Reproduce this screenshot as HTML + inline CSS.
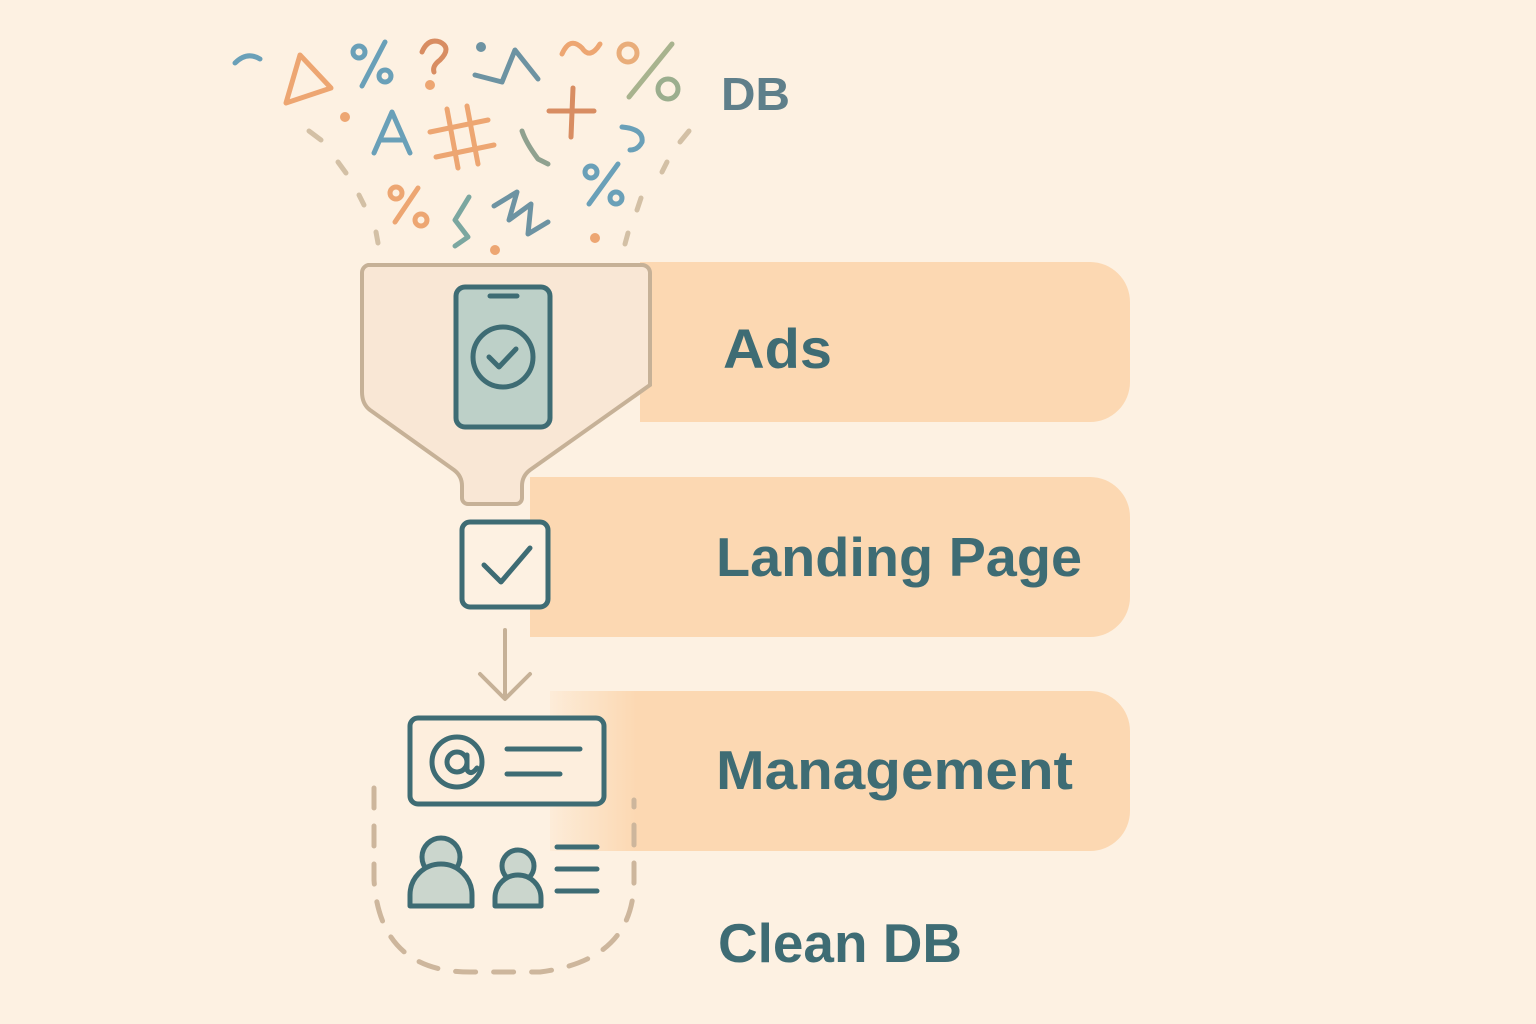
<!DOCTYPE html>
<html><head><meta charset="utf-8"><style>
html,body{margin:0;padding:0;background:#fdf1e2;}
svg{display:block}
text{font-family:"Liberation Sans",sans-serif;font-weight:bold;fill:#3e6c74}
</style></head><body>
<svg width="1536" height="1024" viewBox="0 0 1536 1024" xmlns="http://www.w3.org/2000/svg">
<defs>
<linearGradient id="fadeL" x1="0" x2="1" y1="0" y2="0">
<stop offset="0" stop-color="#fcd8b2" stop-opacity="0.2"/><stop offset="0.15" stop-color="#fcd8b2" stop-opacity="1"/><stop offset="1" stop-color="#fcd8b2"/>
</linearGradient>
</defs>
<rect width="1536" height="1024" fill="#fdf1e2"/>
<path d="M640 262 H1090 a40 40 0 0 1 40 40 V382 a40 40 0 0 1 -40 40 H640 Z" fill="#fcd8b2"/>
<path d="M530 477 H1090 a40 40 0 0 1 40 40 V597 a40 40 0 0 1 -40 40 H530 Z" fill="#fcd8b2"/>
<path d="M550 691 H1090 a40 40 0 0 1 40 40 V811 a40 40 0 0 1 -40 40 H550 Z" fill="url(#fadeL)"/>
<path d="M368 265 H642 a8 8 0 0 1 8 8 V385 L530 470 Q522 476 522 486 V498 a6 6 0 0 1 -6 6 H468 a6 6 0 0 1 -6 -6 V486 Q462 476 454 470 L370 410 Q362 404 362 392 V273 a8 8 0 0 1 6 -8Z" fill="#f9e7d5" stroke="#c6b197" stroke-width="4"/>
<rect x="456" y="287" width="94" height="140" rx="9" fill="#bdd0c8" stroke="#3e6c74" stroke-width="5"/>
<line x1="490" y1="296" x2="517" y2="296" stroke="#3e6c74" stroke-width="5" stroke-linecap="round"/>
<circle cx="503" cy="357" r="30" fill="none" stroke="#3e6c74" stroke-width="5"/>
<path d="M489 357 l10 10 l17 -18" fill="none" stroke="#3e6c74" stroke-width="5" stroke-linecap="round" stroke-linejoin="round"/>
<rect x="462" y="522" width="86" height="85" rx="8" fill="#fdf1e2" stroke="#3e6c74" stroke-width="5"/>
<path d="M484 565 l17 17 l29 -34" fill="none" stroke="#3e6c74" stroke-width="5" stroke-linecap="round" stroke-linejoin="round"/>
<g stroke="#c6b197" stroke-width="4" fill="none" stroke-linecap="round" stroke-linejoin="round">
<line x1="505" y1="630" x2="505" y2="698"/><path d="M480 674 L505 699 L530 674"/>
</g>
<path d="M374 788 V880 Q380 972 470 972 H540 Q634 960 634 880 V800" fill="none" stroke="#cdb69c" stroke-width="5" stroke-dasharray="20 18" stroke-linecap="round"/>
<rect x="410" y="718" width="194" height="86" rx="8" fill="#fdeedd" stroke="#3e6c74" stroke-width="5"/>
<circle cx="457" cy="762" r="25" fill="none" stroke="#3e6c74" stroke-width="5"/>
<circle cx="457" cy="762" r="10" fill="none" stroke="#3e6c74" stroke-width="5"/>
<path d="M467 755 V770 q4 6 10 -2" fill="none" stroke="#3e6c74" stroke-width="5" stroke-linecap="round"/>
<line x1="507" y1="749" x2="580" y2="749" stroke="#3e6c74" stroke-width="5" stroke-linecap="round"/>
<line x1="507" y1="774" x2="560" y2="774" stroke="#3e6c74" stroke-width="5" stroke-linecap="round"/>
<g stroke="#3e6c74" stroke-width="5" fill="#cbd6cd">
<circle cx="441" cy="857" r="19"/>
<path d="M410 906 V895 a31 31 0 0 1 62 0 V906 Z" stroke-linejoin="round"/>
<circle cx="518" cy="866" r="16"/>
<path d="M495 906 V898 a23 23 0 0 1 46 0 V906 Z" stroke-linejoin="round"/>
</g>
<g stroke="#3e6c74" stroke-width="5" stroke-linecap="round">
<line x1="557" y1="847" x2="597" y2="847"/><line x1="557" y1="869" x2="597" y2="869"/><line x1="557" y1="891" x2="597" y2="891"/>
</g>
<g fill="none" stroke-width="5" stroke-linecap="round" stroke-linejoin="round">
<path d="M235 63 q12 -12 25 -4" stroke="#6aa0b8"/>
<path d="M286 103 L300 55 L331 88 Z" stroke="#eda672"/>
<g stroke="#6aa0b8"><line x1="362" y1="86" x2="385" y2="42"/><circle cx="359" cy="52" r="6"/><circle cx="385" cy="76" r="6"/></g>
<path d="M422 52 q6 -14 18 -10 q12 6 0 18 q-8 6 -6 12" stroke="#d88d62"/>
<circle cx="430" cy="85" r="2.5" fill="#eda672" stroke="#eda672"/>
<circle cx="481" cy="47" r="2.5" fill="#6d93a2" stroke="#6d93a2"/>
<path d="M475 75 L502 82 L515 50 L538 79" stroke="#6d93a2"/>
<path d="M562 54 q8 -18 20 -6 q8 12 18 -4" stroke="#eda672"/>
<circle cx="628" cy="53" r="9" stroke="#e9ad7a"/>
<line x1="629" y1="97" x2="672" y2="44" stroke="#a8b38e"/>
<circle cx="668" cy="89" r="10" stroke="#9bae8e"/>
<circle cx="345" cy="117" r="2.5" fill="#eda672" stroke="#eda672"/>
<path d="M374 153 L392 112 L410 153 M380 140 H404" stroke="#6aa0b8"/>
<g stroke="#eda672"><line x1="430" y1="132" x2="488" y2="120"/><line x1="436" y1="157" x2="494" y2="145"/><line x1="447" y1="109" x2="458" y2="168"/><line x1="467" y1="106" x2="478" y2="164"/></g>
<g stroke="#d88d62"><line x1="549" y1="111" x2="594" y2="111"/><line x1="573" y1="88" x2="571" y2="137"/></g>
<path d="M522 131 q4 12 16 28 l10 5" stroke="#8fa18f"/>
<path d="M622 127 q22 2 20 15 q-4 8 -12 8" stroke="#6aa0b8"/>
<line x1="309" y1="131" x2="321" y2="140" stroke="#d3c0a5"/>
<line x1="338" y1="162" x2="346" y2="173" stroke="#d3c0a5"/>
<line x1="680" y1="142" x2="689" y2="131" stroke="#d3c0a5"/>
<line x1="662" y1="172" x2="667" y2="162" stroke="#d3c0a5"/>
<line x1="359" y1="195" x2="364" y2="205" stroke="#d3c0a5"/>
<line x1="376" y1="232" x2="378" y2="243" stroke="#d3c0a5"/>
<line x1="641" y1="198" x2="637" y2="210" stroke="#d3c0a5"/>
<line x1="628" y1="233" x2="625" y2="244" stroke="#d3c0a5"/>
<g stroke="#eda672"><line x1="395" y1="222" x2="418" y2="188"/><circle cx="396" cy="193" r="6"/><circle cx="421" cy="220" r="6"/></g>
<path d="M469 197 L455 220 L468 237 L455 246" stroke="#7ba7a0"/>
<path d="M494 206 L517 192 L509 220 L531 204 L528 234 L548 222" stroke="#6d93a2"/>
<circle cx="495" cy="250" r="2.5" fill="#eda672" stroke="#eda672"/>
<g stroke="#6aa0b8"><line x1="589" y1="204" x2="618" y2="164"/><circle cx="591" cy="172" r="6"/><circle cx="616" cy="198" r="6"/></g>
<circle cx="595" cy="238" r="2.5" fill="#eda672" stroke="#eda672"/>
</g>
<text x="721" y="110" font-size="46" textLength="69" lengthAdjust="spacingAndGlyphs" style="fill:#5f7f8a">DB</text>
<text x="723" y="368" font-size="56" textLength="109" lengthAdjust="spacingAndGlyphs">Ads</text>
<text x="716" y="576" font-size="55" textLength="366" lengthAdjust="spacingAndGlyphs">Landing Page</text>
<text x="716" y="789" font-size="55" textLength="357" lengthAdjust="spacingAndGlyphs">Management</text>
<text x="718" y="962" font-size="55" textLength="244" lengthAdjust="spacingAndGlyphs">Clean DB</text>
</svg>
</body></html>
